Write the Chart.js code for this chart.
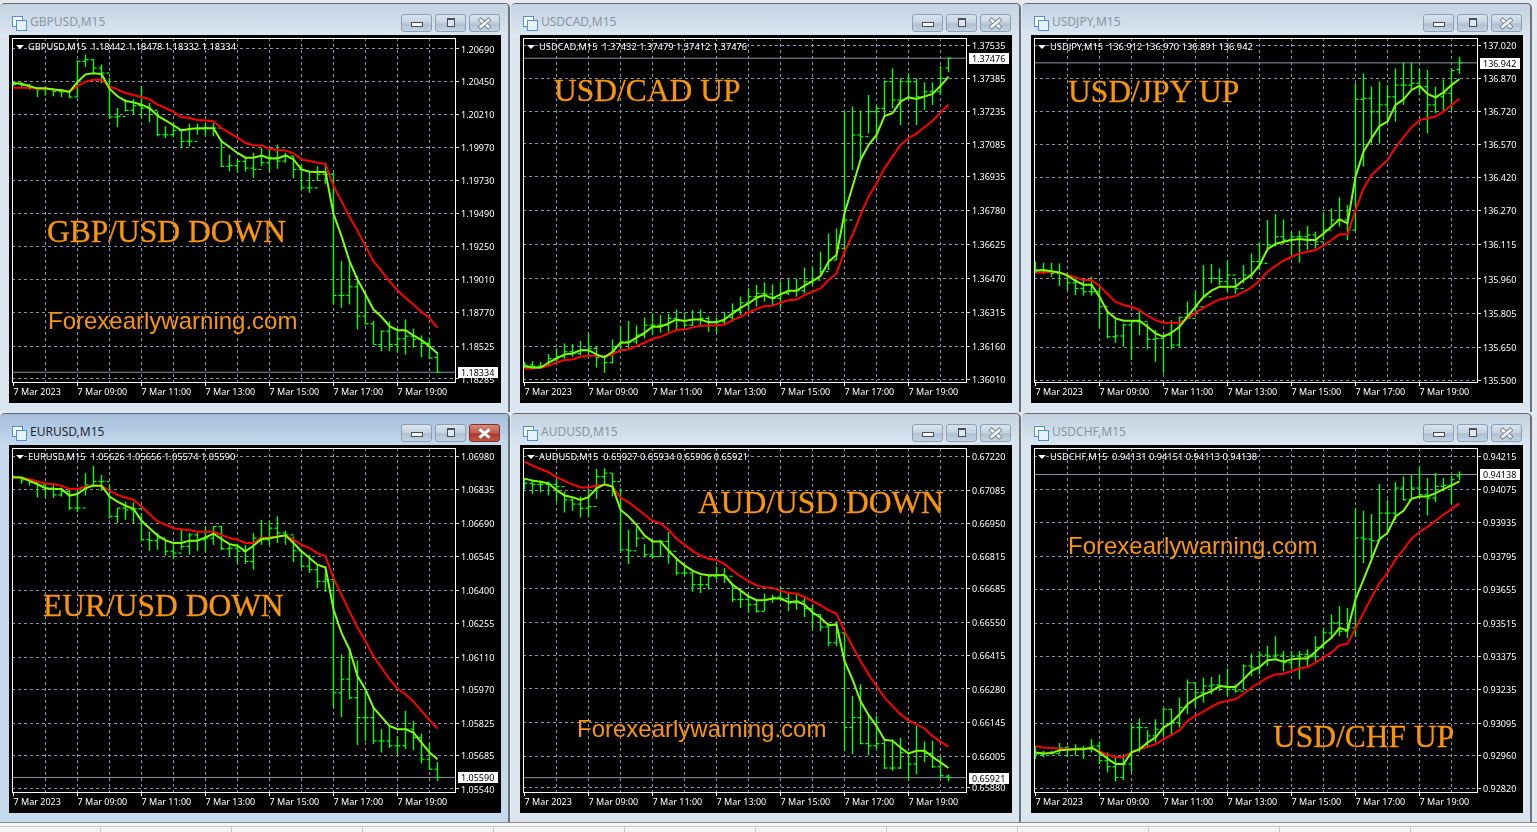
<!DOCTYPE html>
<html><head><meta charset="utf-8"><title>Forex M15 charts</title>
<script src="https://cdn.jsdelivr.net/npm/chart.js@4"></script>
<style>
html,body{margin:0;padding:0;width:1537px;height:832px;overflow:hidden;background:#e4eaf0;font-family:"Noto Sans",sans-serif}
.win{position:absolute;width:510px;height:409px;background:#dbe6f1;border-top:1px solid #5f6870;border-right:2px solid #6a727a;box-sizing:border-box;border-radius:5px 5px 0 0}
.bar{position:absolute;left:0;right:0;top:0;height:31px;background:linear-gradient(#c5d2df,#d9e5f1);border-radius:5px 5px 0 0}
.win.active .bar{background:linear-gradient(#a4bddb,#c6daee)}
.win.active{background:#c6daee}
.ttl{position:absolute;left:30px;top:9px;font-size:12px;line-height:18px;color:#8a95a1;white-space:pre}
.win.active .ttl{color:#1c2a38}
.ico{position:absolute;left:12px;top:12px;width:9px;height:9px;background:#fff;border:1px solid #4d92d8}
.ico2{position:absolute;left:16px;top:16px;width:9px;height:9px;background:#e8f2fc;border:1px solid #4d92d8}
.btn{position:absolute;top:10px;width:31px;height:18px;box-sizing:border-box;border:1px solid #8d9fb3;border-radius:3px;background:linear-gradient(#dae4ee 0,#c4d2e0 50%,#aebfd0 55%,#c4d4e3 100%)}
.btn.b1{right:76px}.btn.b2{right:42px}.btn.b3{right:8px}
.win.active .btn.b3{background:linear-gradient(#d58a7c 0,#c25c4c 50%,#a93a2c 55%,#c4553f 100%);border-color:#7e3328}
.gmin{position:absolute;left:9px;top:7px;width:10px;height:3px;background:#f4f7fa;border:1px solid #47505a}
.gmax{position:absolute;left:11px;top:3px;width:6px;height:6px;background:#dfe6ed;border:1px solid #47505a;border-top-width:2px}
.gx1,.gx2{position:absolute;left:8px;top:7px;width:13px;height:3px;background:#f2f5f8;box-shadow:0 0 0 .6px #56616d}
.gx1{transform:rotate(40deg)}.gx2{transform:rotate(-40deg)}
.win.active .gx1,.win.active .gx2{background:#fff;box-shadow:none}
.pane{position:absolute;width:492px;height:368px;background:#000}
.pane canvas{position:absolute;left:0;top:0}
.hdr{position:absolute;left:19px;top:5px;color:#fff;font-size:9.3px;line-height:13px;white-space:pre}
.tri{position:absolute;left:7px;top:10px;width:0;height:0;border-left:4px solid transparent;border-right:4px solid transparent;border-top:4px solid #fff}
.note{position:absolute;color:#f9960b;white-space:pre;line-height:1}
.serif{font-family:"Liberation Serif",serif;font-size:31.5px;-webkit-text-stroke:.3px #f9960b}
.sans{font-family:"Liberation Sans",sans-serif;font-size:24px}
.foot{position:absolute;left:0;top:822px;width:1537px;height:10px;background:#f4f4f4;border-top:1px solid #8b8f94;box-sizing:border-box}
.foot2{position:absolute;left:0;top:826px;width:1537px;height:1px;background:#c9c9c9}
.sep{position:absolute;top:826px;width:1px;height:6px;background:#c9c9c9}
</style></head><body>
<script>
const timeLabels=['7 Mar 2023','7 Mar 09:00','7 Mar 11:00','7 Mar 13:00','7 Mar 15:00','7 Mar 17:00','7 Mar 19:00'];

const gbpTicks=[1.20690,1.20450,1.20210,1.19970,1.19730,1.19490,1.19250,1.19010,1.18770,1.18525,1.18285];
const gbpHigh=[1.20447,1.20449,1.20437,1.20406,1.20413,1.20406,1.20398,1.20394,1.20607,1.20649,
1.20617,1.20576,1.20479,1.20260,1.20321,1.20325,1.20418,1.20296,1.20236,1.20126,
1.20151,1.20097,1.20146,1.20146,1.20151,1.20151,1.20029,1.19920,1.19883,1.19895,
1.19934,1.19970,1.19970,1.19994,1.19934,1.19909,1.19848,1.19800,1.19836,1.19861,
1.19793,1.19144,1.19132,1.19034,1.18913,1.18706,1.18638,1.18706,1.18646,1.18719,
1.18653,1.18602,1.18585,1.18478];
const gbpLow=[1.20418,1.20406,1.20394,1.20340,1.20350,1.20345,1.20340,1.20330,1.20340,1.20559,
1.20515,1.20442,1.20187,1.20121,1.20236,1.20211,1.20187,1.20155,1.20053,1.20041,
1.20048,1.19966,1.19980,1.20065,1.20053,1.20053,1.19830,1.19798,1.19791,1.19798,
1.19749,1.19836,1.19793,1.19817,1.19861,1.19749,1.19666,1.19642,1.19727,1.19703,
1.18828,1.18804,1.18828,1.18646,1.18682,1.18536,1.18488,1.18488,1.18476,1.18463,
1.18512,1.18444,1.18432,1.18332];
const gbpOpen=[1.20445,1.20432,1.20425,1.20403,1.20394,1.20398,1.20381,1.20377,1.20340,1.20600,
1.20612,1.20551,1.20515,1.20194,1.20199,1.20243,1.20277,1.20260,1.20243,1.20065,
1.20065,1.20097,1.20017,1.20017,1.20107,1.20114,1.20114,1.19835,1.19840,1.19871,
1.19822,1.19812,1.19861,1.19897,1.19873,1.19909,1.19812,1.19678,1.19678,1.19776,
1.19776,1.18894,1.18894,1.18957,1.18743,1.18687,1.18536,1.18633,1.18536,1.18578,
1.18597,1.18573,1.18544,1.18442];
const gbpClose=[1.20432,1.20425,1.20403,1.20394,1.20398,1.20381,1.20377,1.20340,1.20600,1.20612,
1.20551,1.20515,1.20194,1.20199,1.20243,1.20277,1.20260,1.20243,1.20065,1.20065,
1.20097,1.20017,1.20017,1.20107,1.20114,1.20114,1.19835,1.19840,1.19871,1.19822,
1.19812,1.19861,1.19897,1.19873,1.19909,1.19812,1.19678,1.19678,1.19776,1.19776,
1.18894,1.18894,1.18957,1.18743,1.18687,1.18536,1.18633,1.18536,1.18578,1.18597,
1.18573,1.18544,1.18437,1.18334];
const gbpFast=[1.20442,1.20437,1.20418,1.20403,1.20403,1.20394,1.20389,1.20377,1.20449,1.20505,
1.20513,1.20508,1.20401,1.20345,1.20311,1.20301,1.20284,1.20260,1.20204,1.20170,
1.20134,1.20097,1.20107,1.20112,1.20112,1.20112,1.20017,1.19976,1.19932,1.19898,
1.19897,1.19914,1.19892,1.19892,1.19914,1.19885,1.19812,1.19795,1.19793,1.19793,
1.19489,1.19326,1.19144,1.19010,1.18901,1.18791,1.18738,1.18670,1.18641,1.18641,
1.18602,1.18568,1.18524,1.18471];
const gbpSlow=[1.20408,1.20408,1.20408,1.20401,1.20401,1.20394,1.20389,1.20381,1.20418,1.20452,
1.20466,1.20466,1.20418,1.20394,1.20369,1.20355,1.20340,1.20325,1.20284,1.20260,
1.20231,1.20194,1.20187,1.20172,1.20168,1.20163,1.20114,1.20078,1.20044,1.20005,
1.19989,1.19987,1.19963,1.19953,1.19951,1.19929,1.19885,1.19873,1.19861,1.19851,
1.19691,1.19581,1.19467,1.19367,1.19253,1.19144,1.19071,1.18998,1.18932,1.18876,
1.18828,1.18772,1.18731,1.18658];

const cadTicks=[1.37535,1.37385,1.37235,1.37085,1.36935,1.36780,1.36625,1.36470,1.36315,1.36160,1.36010];
const cadHigh=[1.36092,1.36095,1.36092,1.36127,1.36153,1.36176,1.36173,1.36187,1.36222,1.36161,
1.36123,1.36194,1.36256,1.36278,1.36258,1.36294,1.36313,1.36305,1.36310,1.36331,
1.36317,1.36328,1.36331,1.36300,1.36294,1.36320,1.36358,1.36389,1.36427,1.36442,
1.36454,1.36445,1.36457,1.36469,1.36471,1.36521,1.36525,1.36594,1.36677,1.36700,
1.37235,1.37255,1.37237,1.37308,1.37260,1.37374,1.37430,1.37384,1.37407,1.37384,
1.37366,1.37366,1.37440,1.37479];
const cadLow=[1.36062,1.36062,1.36062,1.36077,1.36092,1.36107,1.36115,1.36123,1.36123,1.36066,
1.36042,1.36085,1.36138,1.36153,1.36173,1.36199,1.36214,1.36224,1.36229,1.36237,
1.36252,1.36255,1.36252,1.36229,1.36224,1.36259,1.36275,1.36305,1.36328,1.36343,
1.36366,1.36351,1.36338,1.36396,1.36389,1.36404,1.36442,1.36480,1.36510,1.36556,
1.36586,1.36966,1.37004,1.37133,1.37103,1.37209,1.37247,1.37171,1.37285,1.37171,
1.37240,1.37263,1.37308,1.37412];
const cadOpen=[1.36072,1.36077,1.36072,1.36072,1.36107,1.36115,1.36138,1.36130,1.36145,1.36153,
1.36112,1.36088,1.36138,1.36183,1.36183,1.36214,1.36259,1.36259,1.36259,1.36290,
1.36279,1.36259,1.36285,1.36290,1.36275,1.36275,1.36294,1.36325,1.36361,1.36389,
1.36404,1.36401,1.36381,1.36404,1.36416,1.36416,1.36457,1.36465,1.36503,1.36556,
1.36609,1.36738,1.37126,1.37118,1.37232,1.37247,1.37369,1.37285,1.37369,1.37369,
1.37301,1.37323,1.37323,1.37432];
const cadClose=[1.36077,1.36072,1.36072,1.36107,1.36115,1.36138,1.36130,1.36145,1.36153,1.36112,
1.36088,1.36138,1.36183,1.36183,1.36214,1.36259,1.36259,1.36259,1.36290,1.36279,
1.36259,1.36285,1.36290,1.36275,1.36275,1.36294,1.36325,1.36361,1.36389,1.36404,
1.36401,1.36381,1.36404,1.36416,1.36416,1.36457,1.36465,1.36503,1.36556,1.36609,
1.36738,1.37126,1.37118,1.37232,1.37247,1.37369,1.37285,1.37369,1.37369,1.37301,
1.37323,1.37323,1.37384,1.37476];
const cadFast=[1.36072,1.36066,1.36066,1.36088,1.36107,1.36126,1.36130,1.36145,1.36145,1.36126,
1.36112,1.36138,1.36179,1.36180,1.36202,1.36224,1.36252,1.36252,1.36267,1.36285,
1.36278,1.36285,1.36285,1.36272,1.36272,1.36285,1.36313,1.36338,1.36358,1.36384,
1.36396,1.36381,1.36399,1.36416,1.36416,1.36439,1.36460,1.36483,1.36548,1.36579,
1.36769,1.36890,1.37012,1.37080,1.37126,1.37212,1.37225,1.37278,1.37298,1.37290,
1.37301,1.37313,1.37349,1.37392];
const cadSlow=[1.36062,1.36062,1.36065,1.36074,1.36089,1.36100,1.36103,1.36115,1.36120,1.36120,
1.36115,1.36126,1.36145,1.36148,1.36164,1.36179,1.36197,1.36206,1.36222,1.36237,
1.36240,1.36249,1.36256,1.36258,1.36258,1.36262,1.36282,1.36297,1.36317,1.36332,
1.36346,1.36348,1.36361,1.36373,1.36376,1.36396,1.36411,1.36427,1.36465,1.36495,
1.36594,1.36670,1.36761,1.36845,1.36905,1.36974,1.37027,1.37080,1.37111,1.37133,
1.37161,1.37190,1.37228,1.37264];

const jpyTicks=[137.020,136.870,136.720,136.570,136.420,136.270,136.115,135.960,135.805,135.650,135.500];
const jpyHigh=[136.039,136.034,136.034,136.031,135.978,135.963,135.958,135.970,135.925,135.819,
135.776,135.758,135.770,135.816,135.758,135.728,135.705,135.773,135.789,135.857,
135.907,136.023,136.028,136.008,136.043,135.963,136.023,136.076,136.129,136.228,
136.255,136.231,136.175,136.179,136.202,136.175,136.261,136.281,136.331,136.296,
136.849,136.894,136.834,136.857,136.841,136.917,136.944,136.944,136.917,136.910,
136.834,136.867,136.917,136.970];
const jpyLow=[135.985,135.982,135.970,135.928,135.910,135.887,135.884,135.884,135.736,135.690,
135.670,135.652,135.592,135.705,135.640,135.584,135.531,135.640,135.652,135.781,
135.804,135.872,135.940,135.932,135.902,135.892,135.940,135.963,136.001,136.099,
136.107,136.119,136.069,136.034,136.092,136.099,136.137,136.198,136.198,136.137,
136.182,136.470,136.576,136.576,136.675,136.675,136.751,136.819,136.796,136.622,
136.713,136.720,136.728,136.891];
const jpyOpen=[136.010,136.001,135.996,135.985,135.985,135.943,135.917,135.902,135.902,135.834,
135.698,135.701,135.751,135.766,135.766,135.686,135.690,135.705,135.660,135.786,
135.781,135.834,135.879,135.963,135.948,135.978,135.917,135.978,136.039,136.031,
136.114,136.152,136.137,136.152,136.152,136.160,136.129,136.182,136.228,136.228,
136.182,136.776,136.781,136.720,136.751,136.788,136.841,136.841,136.849,136.834,
136.751,136.788,136.804,136.912];
const jpyClose=[136.001,135.996,135.985,135.985,135.943,135.917,135.902,135.902,135.834,135.698,
135.701,135.751,135.766,135.766,135.686,135.690,135.705,135.660,135.786,135.781,
135.834,135.879,135.963,135.948,135.978,135.917,135.978,136.039,136.031,136.114,
136.152,136.137,136.152,136.152,136.160,136.129,136.182,136.228,136.228,136.182,
136.776,136.781,136.720,136.751,136.788,136.841,136.841,136.849,136.834,136.751,
136.788,136.804,136.907,136.942];
const jpyFast=[135.998,136.001,135.995,135.990,135.975,135.952,135.934,135.934,135.879,135.811,
135.781,135.770,135.770,135.770,135.743,135.713,135.698,135.716,135.743,135.789,
135.834,135.879,135.907,135.925,135.925,135.925,135.955,135.978,136.023,136.095,
136.119,136.129,136.137,136.142,136.137,136.137,136.167,136.198,136.231,136.213,
136.425,136.538,136.599,136.655,136.675,136.751,136.776,136.819,136.838,136.801,
136.785,136.808,136.841,136.869];
const jpySlow=[135.989,135.990,135.993,135.990,135.978,135.967,135.955,135.955,135.928,135.892,
135.857,135.842,135.834,135.819,135.793,135.773,135.761,135.761,135.761,135.781,
135.807,135.829,135.849,135.867,135.875,135.882,135.902,135.922,135.952,135.993,
136.019,136.043,136.061,136.076,136.084,136.092,136.111,136.137,136.163,136.163,
136.273,136.372,136.432,136.467,136.501,136.557,136.604,136.649,136.682,136.690,
136.698,136.720,136.751,136.779];

const eurTicks=[1.06980,1.06835,1.06690,1.06545,1.06400,1.06255,1.06110,1.05970,1.05825,1.05685,1.05540];
const eurHigh=[1.06897,1.06892,1.06885,1.06871,1.06866,1.06864,1.06845,1.06842,1.06842,1.06907,
1.06938,1.06899,1.06856,1.06756,1.06784,1.06781,1.06734,1.06655,1.06648,1.06619,
1.06609,1.06662,1.06648,1.06648,1.06676,1.06679,1.06679,1.06602,1.06602,1.06597,
1.06648,1.06705,1.06701,1.06720,1.06658,1.06633,1.06569,1.06554,1.06514,1.06504,
1.06453,1.06122,1.06151,1.06097,1.05971,1.05899,1.05799,1.05813,1.05770,1.05878,
1.05835,1.05780,1.05741,1.05656];
const eurLow=[1.06881,1.06861,1.06853,1.06802,1.06802,1.06799,1.06806,1.06748,1.06738,1.06810,
1.06849,1.06830,1.06710,1.06691,1.06705,1.06691,1.06612,1.06571,1.06576,1.06550,
1.06537,1.06576,1.06554,1.06571,1.06566,1.06597,1.06573,1.06547,1.06514,1.06514,
1.06489,1.06597,1.06597,1.06605,1.06597,1.06522,1.06497,1.06475,1.06410,1.06393,
1.05892,1.05852,1.05928,1.05731,1.05748,1.05734,1.05698,1.05717,1.05688,1.05712,
1.05708,1.05650,1.05623,1.05574];
const eurOpen=[1.06893,1.06889,1.06878,1.06868,1.06856,1.06842,1.06813,1.06828,1.06756,1.06756,
1.06856,1.06871,1.06871,1.06720,1.06756,1.06748,1.06753,1.06619,1.06615,1.06626,
1.06569,1.06561,1.06590,1.06640,1.06619,1.06626,1.06676,1.06580,1.06583,1.06569,
1.06525,1.06626,1.06619,1.06669,1.06648,1.06640,1.06571,1.06504,1.06489,1.06439,
1.06446,1.05957,1.06015,1.05935,1.05849,1.05849,1.05748,1.05748,1.05727,1.05727,
1.05799,1.05763,1.05669,1.05626];
const eurClose=[1.06889,1.06878,1.06868,1.06856,1.06842,1.06813,1.06828,1.06756,1.06756,1.06856,
1.06871,1.06871,1.06720,1.06756,1.06748,1.06753,1.06619,1.06615,1.06626,1.06569,
1.06561,1.06590,1.06640,1.06619,1.06626,1.06676,1.06580,1.06583,1.06569,1.06525,
1.06626,1.06619,1.06669,1.06648,1.06640,1.06571,1.06504,1.06489,1.06439,1.06446,
1.05957,1.06015,1.05935,1.05849,1.05849,1.05748,1.05748,1.05727,1.05727,1.05799,
1.05763,1.05669,1.05626,1.05590];
const eurFast=[1.06889,1.06888,1.06874,1.06859,1.06842,1.06839,1.06839,1.06810,1.06817,1.06842,
1.06853,1.06853,1.06806,1.06784,1.06766,1.06753,1.06701,1.06669,1.06638,1.06616,
1.06605,1.06605,1.06615,1.06615,1.06629,1.06645,1.06622,1.06600,1.06593,1.06569,
1.06593,1.06622,1.06625,1.06632,1.06638,1.06605,1.06569,1.06540,1.06511,1.06499,
1.06317,1.06216,1.06144,1.06029,1.05971,1.05892,1.05852,1.05813,1.05799,1.05799,
1.05784,1.05741,1.05698,1.05669];
const eurSlow=[1.06889,1.06887,1.06881,1.06871,1.06862,1.06859,1.06853,1.06839,1.06839,1.06849,
1.06853,1.06853,1.06830,1.06813,1.06802,1.06792,1.06763,1.06730,1.06698,1.06684,
1.06669,1.06664,1.06661,1.06653,1.06653,1.06653,1.06640,1.06626,1.06619,1.06605,
1.06605,1.06626,1.06629,1.06633,1.06636,1.06619,1.06597,1.06583,1.06561,1.06547,
1.06453,1.06381,1.06309,1.06240,1.06180,1.06115,1.06065,1.06015,1.05974,1.05950,
1.05918,1.05878,1.05838,1.05802];

const audTicks=[0.67220,0.67085,0.66950,0.66815,0.66685,0.66550,0.66415,0.66280,0.66145,0.66005,0.65880];
const audHigh=[0.67133,0.67128,0.67123,0.67119,0.67133,0.67079,0.67052,0.67059,0.67092,0.67170,
0.67173,0.67153,0.67092,0.66924,0.66935,0.66866,0.66881,0.66884,0.66915,0.66810,
0.66776,0.66756,0.66738,0.66740,0.66776,0.66769,0.66705,0.66678,0.66662,0.66642,
0.66666,0.66662,0.66695,0.66668,0.66664,0.66655,0.66621,0.66581,0.66547,0.66554,
0.66507,0.66252,0.66299,0.66178,0.66171,0.66077,0.66077,0.66083,0.66023,0.66130,
0.66067,0.66070,0.66009,0.65934];
const audLow=[0.67088,0.67069,0.67075,0.67063,0.67038,0.66994,0.67001,0.66974,0.66974,0.67049,
0.67106,0.67059,0.66837,0.66785,0.66854,0.66812,0.66810,0.66819,0.66787,0.66740,
0.66738,0.66673,0.66668,0.66682,0.66722,0.66709,0.66632,0.66608,0.66588,0.66588,
0.66594,0.66628,0.66635,0.66594,0.66601,0.66570,0.66525,0.66514,0.66453,0.66453,
0.66030,0.66016,0.66056,0.66012,0.66036,0.65956,0.65949,0.65956,0.65909,0.65935,
0.65983,0.65960,0.65922,0.65906];
const audOpen=[0.67120,0.67112,0.67108,0.67108,0.67108,0.67099,0.67045,0.67028,0.67011,0.67018,
0.67139,0.67153,0.67119,0.66843,0.66839,0.66890,0.66823,0.66816,0.66877,0.66837,
0.66749,0.66749,0.66702,0.66702,0.66736,0.66742,0.66736,0.66642,0.66642,0.66621,
0.66594,0.66642,0.66651,0.66646,0.66628,0.66635,0.66605,0.66581,0.66531,0.66467,
0.66507,0.66124,0.66164,0.66059,0.66050,0.66059,0.65960,0.65960,0.66023,0.65976,
0.66030,0.66019,0.65965,0.65927];
const audClose=[0.67112,0.67108,0.67108,0.67108,0.67099,0.67045,0.67028,0.67011,0.67018,0.67139,
0.67153,0.67119,0.66843,0.66839,0.66890,0.66823,0.66816,0.66877,0.66837,0.66749,
0.66749,0.66702,0.66702,0.66736,0.66742,0.66736,0.66642,0.66642,0.66621,0.66594,
0.66642,0.66651,0.66646,0.66628,0.66635,0.66605,0.66581,0.66531,0.66467,0.66507,
0.66124,0.66164,0.66059,0.66050,0.66059,0.65960,0.65960,0.66023,0.65976,0.66030,
0.66019,0.65965,0.65929,0.65921];
const audFast=[0.67131,0.67123,0.67118,0.67112,0.67085,0.67063,0.67056,0.67045,0.67056,0.67092,
0.67108,0.67099,0.67005,0.66978,0.66944,0.66901,0.66877,0.66877,0.66839,0.66807,
0.66780,0.66759,0.66745,0.66740,0.66740,0.66740,0.66702,0.66679,0.66655,0.66639,
0.66639,0.66646,0.66646,0.66631,0.66635,0.66621,0.66590,0.66568,0.66538,0.66541,
0.66393,0.66319,0.66231,0.66175,0.66130,0.66074,0.66070,0.66043,0.66019,0.66030,
0.66030,0.66005,0.65983,0.65960];
const audSlow=[0.67200,0.67184,0.67170,0.67157,0.67137,0.67122,0.67108,0.67095,0.67095,0.67103,
0.67106,0.67099,0.67054,0.67036,0.67011,0.66985,0.66960,0.66950,0.66924,0.66888,
0.66864,0.66839,0.66820,0.66807,0.66802,0.66785,0.66759,0.66736,0.66716,0.66699,
0.66691,0.66689,0.66678,0.66668,0.66666,0.66651,0.66635,0.66619,0.66599,0.66585,
0.66514,0.66453,0.66393,0.66339,0.66292,0.66245,0.66211,0.66178,0.66153,0.66137,
0.66120,0.66090,0.66067,0.66047];

const chfTicks=[0.94215,0.94075,0.93935,0.93795,0.93655,0.93515,0.93375,0.93235,0.93095,0.92960,0.92820];
const chfHigh=[0.93000,0.92980,0.92980,0.93012,0.93000,0.93007,0.93000,0.93028,0.93019,0.92973,
0.92959,0.92966,0.93091,0.93116,0.93067,0.93112,0.93161,0.93154,0.93203,0.93279,
0.93265,0.93286,0.93289,0.93300,0.93325,0.93258,0.93342,0.93387,0.93398,0.93419,
0.93460,0.93398,0.93398,0.93398,0.93405,0.93460,0.93495,0.93551,0.93586,0.93579,
0.93997,0.93986,0.93972,0.94098,0.94032,0.94106,0.94130,0.94137,0.94171,0.94123,
0.94144,0.94123,0.94134,0.94151];
const chfLow=[0.92945,0.92952,0.92966,0.92966,0.92954,0.92959,0.92945,0.92973,0.92924,0.92889,
0.92851,0.92857,0.92889,0.92973,0.92991,0.93014,0.93042,0.93049,0.93077,0.93133,
0.93161,0.93182,0.93216,0.93230,0.93210,0.93223,0.93237,0.93293,0.93300,0.93335,
0.93359,0.93314,0.93321,0.93279,0.93328,0.93353,0.93412,0.93451,0.93460,0.93453,
0.93460,0.93767,0.93788,0.93858,0.93893,0.93948,0.94028,0.94039,0.94046,0.93966,
0.94022,0.94067,0.94014,0.94113];
const chfOpen=[0.92975,0.92966,0.92968,0.92968,0.92993,0.92986,0.92991,0.92986,0.93000,0.92938,
0.92913,0.92868,0.92924,0.93077,0.93077,0.93042,0.93070,0.93154,0.93098,0.93161,
0.93265,0.93223,0.93251,0.93256,0.93251,0.93237,0.93230,0.93335,0.93328,0.93381,
0.93377,0.93381,0.93349,0.93377,0.93384,0.93377,0.93412,0.93474,0.93516,0.93481,
0.93495,0.93872,0.93867,0.93861,0.93976,0.93976,0.94081,0.94032,0.94081,0.94053,
0.94039,0.94088,0.94092,0.94131];
const chfClose=[0.92966,0.92968,0.92968,0.92993,0.92986,0.92991,0.92986,0.93000,0.92938,0.92913,
0.92868,0.92924,0.93077,0.93077,0.93042,0.93070,0.93154,0.93098,0.93161,0.93265,
0.93223,0.93251,0.93256,0.93251,0.93237,0.93230,0.93335,0.93328,0.93381,0.93377,
0.93381,0.93349,0.93377,0.93384,0.93377,0.93412,0.93474,0.93516,0.93481,0.93495,
0.93872,0.93867,0.93861,0.93976,0.93976,0.94081,0.94032,0.94081,0.94053,0.94039,
0.94088,0.94092,0.94116,0.94138];
const chfFast=[0.92973,0.92968,0.92970,0.92982,0.92984,0.92986,0.92986,0.92993,0.92973,0.92947,
0.92924,0.92924,0.92973,0.92986,0.93014,0.93035,0.93077,0.93098,0.93133,0.93175,
0.93198,0.93216,0.93230,0.93251,0.93247,0.93247,0.93279,0.93314,0.93331,0.93359,
0.93363,0.93353,0.93363,0.93367,0.93367,0.93395,0.93426,0.93453,0.93495,0.93484,
0.93614,0.93697,0.93781,0.93867,0.93893,0.93962,0.93986,0.94036,0.94046,0.94046,
0.94060,0.94077,0.94092,0.94109];
const chfSlow=[0.93000,0.92993,0.92991,0.92989,0.92988,0.92986,0.92986,0.92991,0.92977,0.92963,
0.92954,0.92954,0.92973,0.92986,0.92996,0.93007,0.93028,0.93046,0.93066,0.93105,
0.93126,0.93144,0.93164,0.93182,0.93189,0.93196,0.93219,0.93244,0.93265,0.93286,
0.93300,0.93303,0.93314,0.93325,0.93331,0.93349,0.93370,0.93391,0.93423,0.93428,
0.93493,0.93558,0.93621,0.93683,0.93725,0.93781,0.93823,0.93869,0.93897,0.93918,
0.93944,0.93969,0.93993,0.94017];

const panels=[
 {sym:'GBPUSD,M15',hdr:'GBPUSD,M15  1.18442 1.18478 1.18332 1.18334',win:[0,3],pane:[9,35],ymin:1.18263,ymax:1.20770,dp:5,ticks:gbpTicks,high:gbpHigh,low:gbpLow,open:gbpOpen,close:gbpClose,fast:gbpFast,slow:gbpSlow},
 {sym:'USDCAD,M15',hdr:'USDCAD,M15  1.37432 1.37479 1.37412 1.37476',win:[511,3],pane:[520,35],ymin:1.36000,ymax:1.37568,dp:5,ticks:cadTicks,high:cadHigh,low:cadLow,open:cadOpen,close:cadClose,fast:cadFast,slow:cadSlow},
 {sym:'USDJPY,M15',hdr:'USDJPY,M15  136.912 136.970 136.891 136.942',win:[1022,3],pane:[1031,35],ymin:135.492,ymax:137.055,dp:3,ticks:jpyTicks,high:jpyHigh,low:jpyLow,open:jpyOpen,close:jpyClose,fast:jpyFast,slow:jpySlow},
 {sym:'EURUSD,M15',hdr:'EURUSD,M15  1.05626 1.05656 1.05574 1.05590',win:[0,413],pane:[9,445],ymin:1.05527,ymax:1.07016,dp:5,ticks:eurTicks,high:eurHigh,low:eurLow,open:eurOpen,close:eurClose,fast:eurFast,slow:eurSlow,active:true},
 {sym:'AUDUSD,M15',hdr:'AUDUSD,M15  0.65927 0.65934 0.65906 0.65921',win:[511,413],pane:[520,445],ymin:0.65863,ymax:0.67255,dp:5,ticks:audTicks,high:audHigh,low:audLow,open:audOpen,close:audClose,fast:audFast,slow:audSlow},
 {sym:'USDCHF,M15',hdr:'USDCHF,M15  0.94131 0.94151 0.94113 0.94138',win:[1022,413],pane:[1031,445],ymin:0.92807,ymax:0.94249,dp:5,ticks:chfTicks,high:chfHigh,low:chfLow,open:chfOpen,close:chfClose,fast:chfFast,slow:chfSlow}
];
const notes=[
 ['GBP/USD DOWN','serif',47,231],['Forexearlywarning.com','sans',48,321],
 ['USD/CAD UP','serif',554,90],['USD/JPY UP','serif',1068,91],
 ['EUR/USD DOWN','serif',43,605],['AUD/USD DOWN','serif',698,502],
 ['Forexearlywarning.com','sans',577,729],['Forexearlywarning.com','sans',1068,546],
 ['USD/CHF UP','serif',1273,736]
];

const FONT={family:'"Noto Sans",sans-serif',size:9};
const GRID='#8793a8', LIME='#00ff00', CHART='#7fff00', RED='#ff0000', PRICE='#8b95a3';
const mk=(cls,parent,txt)=>{const d=document.createElement('div');d.className=cls;if(txt)d.textContent=txt;parent.appendChild(d);return d;};

const framePlugin={id:'frame',afterDatasetsDraw(c){
  const a=c.chartArea,g=c.ctx;g.save();g.strokeStyle='#fff';g.lineWidth=1;
  g.strokeRect(a.left+.5,a.top+.5,a.right-a.left,a.bottom-a.top);g.restore();
}};
const pricePlugin={id:'priceTag',afterDraw(c){
  const o=c.options.plugins.priceTag,y=c.scales.y.getPixelForValue(o.value),a=c.chartArea,g=c.ctx;
  g.save();g.fillStyle='#fff';g.fillRect(a.right+3,Math.round(y)-5,40,11);
  g.fillStyle='#000';g.font=FONT.size+'px '+FONT.family;g.textBaseline='middle';g.textAlign='left';
  g.fillText(o.value.toFixed(o.dp),a.right+6,Math.round(y)+1);g.restore();
}};
const noPad=s=>{s.paddingTop=0;s.paddingBottom=0;s.paddingLeft=0;s.paddingRight=0;};

panels.forEach(p=>{
  const w=mk('win'+(p.active?' active':''),document.body);w.style.left=p.win[0]+'px';w.style.top=p.win[1]+'px';
  mk('bar',w);mk('ico',w);mk('ico2',w);mk('ttl',w,p.sym);
  const b1=mk('btn b1',w),b2=mk('btn b2',w),b3=mk('btn b3',w);mk('gmin',b1);mk('gmax',b2);mk('gx1',b3);mk('gx2',b3);
  const pane=mk('pane',document.body);pane.style.left=p.pane[0]+'px';pane.style.top=p.pane[1]+'px';
  const cv=document.createElement('canvas');cv.width=492;cv.height=368;cv.style.width='492px';cv.style.height='368px';pane.appendChild(cv);
  mk('tri',pane);mk('hdr',pane,p.hdr);
  const idx=(a)=>a.map((v,i)=>({x:i,y:v}));
  const last=p.close[p.close.length-1];
  new Chart(cv,{
    data:{datasets:[
      {type:'line',label:'Slow MA',data:idx(p.slow),borderColor:RED,borderWidth:2,pointRadius:0,tension:0,order:2},
      {type:'line',label:'Fast MA',data:idx(p.fast),borderColor:CHART,borderWidth:2,pointRadius:0,tension:0,order:1},
      {type:'line',label:'Close',data:idx(p.close),showLine:false,pointStyle:'dash',pointRadius:3,pointBorderColor:LIME,pointBorderWidth:1.2,order:3},
      {type:'line',label:'Open',data:idx(p.open),showLine:false,pointStyle:'dash',pointRotation:180,pointRadius:3,pointBorderColor:LIME,pointBorderWidth:1.2,order:3},
      {type:'bar',label:'High-Low',data:p.high.map((h,i)=>({x:i,y:[p.low[i],h]})),backgroundColor:LIME,barThickness:1.4,inflateAmount:0,borderWidth:0,order:4},
      {type:'line',label:'Price',data:[{x:-0.1875,y:last},{x:55.1875,y:last}],borderColor:PRICE,borderWidth:1,pointRadius:0,order:5}
    ]},
    options:{
      responsive:false,animation:false,events:[],
      layout:{autoPadding:false,padding:{left:3,top:3,right:0,bottom:0}},
      plugins:{legend:{display:false},tooltip:{enabled:false},title:{display:false},priceTag:{value:last,dp:p.dp}},
      scales:{
        x:{type:'linear',offset:false,min:-0.1875,max:55.1875,
          afterBuildTicks:s=>{const t=[];for(let v=0;v<=52;v+=4)t.push({value:v});s.ticks=t;},
          afterFit:s=>{s.height=21;noPad(s);},
          border:{display:false,dash:[3,3]},
          grid:{offset:false,color:c=>c.tick&&c.tick.value===0?'rgba(0,0,0,0)':GRID,lineWidth:1,tickLength:4,
                tickColor:c=>c.tick&&c.tick.value%8===0?'#fff':'rgba(0,0,0,0)',tickBorderDash:[]},
          ticks:{color:'#fff',font:FONT,padding:1,autoSkip:false,maxRotation:0,minRotation:0,align:'start',
                 callback:v=>v%8===0?timeLabels[v/8]:''}
        },
        y:{type:'linear',position:'right',min:p.ymin,max:p.ymax,
          afterBuildTicks:s=>{s.ticks=p.ticks.map(v=>({value:v}));},
          afterFit:s=>{s.width=46;noPad(s);},
          border:{display:false,dash:[3,3]},
          grid:{color:GRID,lineWidth:1,tickLength:4,tickColor:'#ddd',tickBorderDash:[]},
          ticks:{color:'#fff',font:FONT,padding:2,autoSkip:false,labelOffset:1,callback:v=>v.toFixed(p.dp)}
        }
      }
    },
    plugins:[framePlugin,pricePlugin]
  });
});
notes.forEach(n=>{const d=mk('note '+n[1],document.body,n[0]);d.style.left=n[2]+'px';
  const h=n[1]==='serif'?30:24;d.style.top=(n[3]-h/2)+'px';});
mk('foot',document.body);mk('foot2',document.body);
[100,231,362,493,624,755,886,1017,1148,1279,1410].forEach(x=>{mk('sep',document.body).style.left=x+'px';});
</script>
</body></html>
